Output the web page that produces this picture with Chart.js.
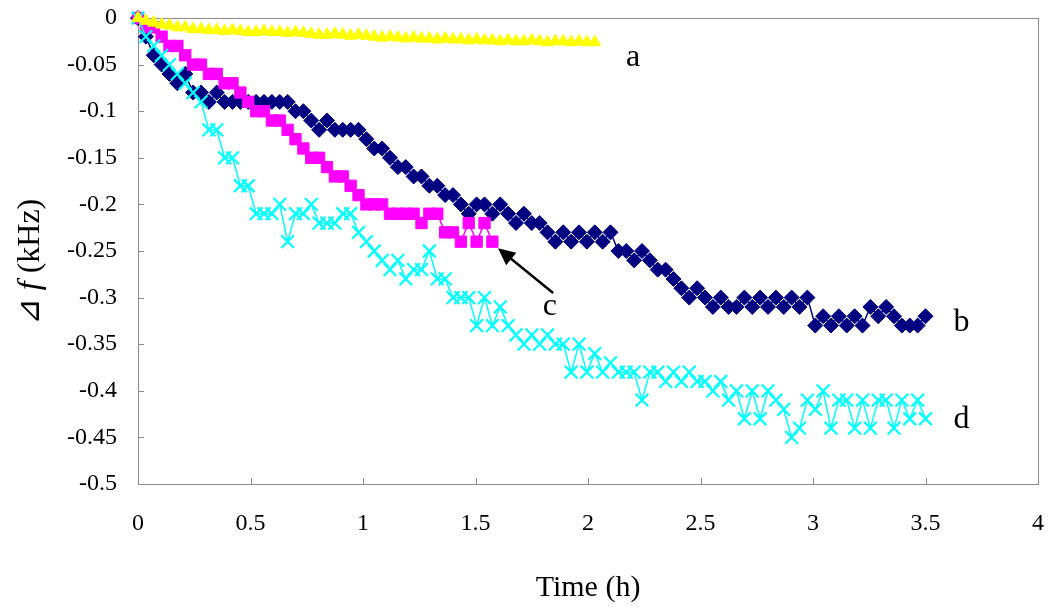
<!DOCTYPE html>
<html>
<head>
<meta charset="utf-8">
<script src="https://cdn.jsdelivr.net/npm/chart.js@4.4.0/dist/chart.umd.min.js"></script>
<style>
  html, body { margin: 0; padding: 0; background: #fff; }
  #wrap { width: 1050px; height: 616px; }
</style>
</head>
<body>
<div id="wrap"><canvas id="chart"></canvas></div>
<script>
// sampling times (h), shared by all four runs
const time = [
  0, 0.035, 0.07, 0.105, 0.14, 0.175, 0.21, 0.245, 0.28, 0.315,
  0.35, 0.385, 0.42, 0.455, 0.49, 0.525, 0.56, 0.595, 0.63, 0.665,
  0.7, 0.735, 0.77, 0.805, 0.84, 0.875, 0.91, 0.945, 0.98, 1.015,
  1.05, 1.085, 1.12, 1.155, 1.19, 1.225, 1.26, 1.295, 1.33, 1.365,
  1.4, 1.435, 1.47, 1.505, 1.54, 1.575, 1.61, 1.645, 1.68, 1.715,
  1.75, 1.785, 1.82, 1.855, 1.89, 1.925, 1.96, 1.995, 2.03, 2.065,
  2.1, 2.135, 2.17, 2.205, 2.24, 2.275, 2.31, 2.345, 2.38, 2.415,
  2.45, 2.485, 2.52, 2.555, 2.59, 2.625, 2.66, 2.695, 2.73, 2.765,
  2.8, 2.835, 2.87, 2.905, 2.94, 2.975, 3.01, 3.045, 3.08, 3.115,
  3.15, 3.185, 3.22, 3.255, 3.29, 3.325, 3.36, 3.395, 3.43, 3.465,
  3.5
];

// delta f (kHz)
const seriesA = [
  0, -0.003, -0.005, -0.007, -0.008, -0.01, -0.01, -0.012, -0.012, -0.013,
  -0.013, -0.014, -0.013, -0.014, -0.015, -0.015, -0.014, -0.015, -0.015, -0.016,
  -0.015, -0.016, -0.017, -0.018, -0.018, -0.017, -0.018, -0.019, -0.018, -0.019,
  -0.02, -0.021, -0.02, -0.021, -0.022, -0.021, -0.022, -0.022, -0.023, -0.022,
  -0.023, -0.023, -0.024, -0.023, -0.024, -0.024, -0.025, -0.024, -0.025, -0.025,
  -0.024, -0.025, -0.026, -0.025, -0.025, -0.026, -0.025, -0.026, -0.026
];
const seriesB = [
  0, -0.02, -0.04, -0.05, -0.06, -0.07, -0.06, -0.08, -0.08, -0.09,
  -0.08, -0.09, -0.09, -0.09, -0.09, -0.09, -0.09, -0.09, -0.09, -0.09,
  -0.1, -0.1, -0.11, -0.12, -0.11, -0.12, -0.12, -0.12, -0.12, -0.13,
  -0.14, -0.14, -0.15, -0.16, -0.16, -0.17, -0.17, -0.18, -0.18, -0.19,
  -0.19, -0.2, -0.21, -0.2, -0.2, -0.21, -0.2, -0.21, -0.22, -0.21,
  -0.22, -0.22, -0.23, -0.24, -0.23, -0.24, -0.23, -0.24, -0.23, -0.24,
  -0.23, -0.25, -0.25, -0.26, -0.25, -0.26, -0.27, -0.27, -0.28, -0.29,
  -0.3, -0.29, -0.3, -0.31, -0.3, -0.31, -0.31, -0.3, -0.31, -0.3,
  -0.31, -0.3, -0.31, -0.3, -0.31, -0.3, -0.33, -0.32, -0.33, -0.32,
  -0.33, -0.32, -0.33, -0.31, -0.32, -0.31, -0.32, -0.33, -0.33, -0.33,
  -0.32
];
const seriesC = [
  0, -0.01, -0.01, -0.02, -0.03, -0.03, -0.04, -0.05, -0.05, -0.06,
  -0.06, -0.07, -0.07, -0.08, -0.09, -0.1, -0.1, -0.11, -0.11, -0.12,
  -0.13, -0.14, -0.15, -0.15, -0.16, -0.17, -0.17, -0.18, -0.19, -0.2,
  -0.2, -0.2, -0.21, -0.21, -0.21, -0.21, -0.22, -0.21, -0.21, -0.23,
  -0.23, -0.24, -0.22, -0.24, -0.22, -0.24
];
const seriesD = [
  0, -0.02, -0.03, -0.04, -0.05, -0.06, -0.07, -0.08, -0.09, -0.12,
  -0.12, -0.15, -0.15, -0.18, -0.18, -0.21, -0.21, -0.21, -0.2, -0.24,
  -0.21, -0.21, -0.2, -0.22, -0.22, -0.22, -0.21, -0.21, -0.23, -0.24,
  -0.25, -0.26, -0.27, -0.26, -0.28, -0.27, -0.27, -0.25, -0.28, -0.28,
  -0.3, -0.3, -0.3, -0.33, -0.3, -0.33, -0.31, -0.33, -0.34, -0.35,
  -0.34, -0.35, -0.34, -0.35, -0.35, -0.38, -0.35, -0.38, -0.36, -0.38,
  -0.37, -0.38, -0.38, -0.38, -0.41, -0.38, -0.38, -0.39, -0.38, -0.39,
  -0.38, -0.39, -0.39, -0.4, -0.39, -0.41, -0.4, -0.43, -0.4, -0.43,
  -0.4, -0.41, -0.42, -0.45, -0.44, -0.41, -0.42, -0.4, -0.44, -0.41,
  -0.41, -0.44, -0.41, -0.44, -0.41, -0.41, -0.44, -0.41, -0.43, -0.41,
  -0.43
];

// curve tags and the arrow pointing at run c (data units)
const tagText = ["a", "b", "c", "d"];
const tagTime = [2.2, 3.66, 1.83, 3.66];
const tagValue = [-0.043, -0.327, -0.31, -0.431];
const arrowTime = [1.845, 1.6];    // tail, head
const arrowValue = [-0.295, -0.247];

const SERIF = "'Liberation Serif', 'Times New Roman', serif";
Chart.defaults.font.family = SERIF;
Chart.defaults.color = "#000";

function pts(vals) {
  return vals.map((v, i) => ({ x: time[i], y: v }));
}

function run(label, vals, color, style, radius, order, pbw) {
  return {
    label: label,
    data: pts(vals),
    borderColor: color,
    backgroundColor: color,
    borderWidth: 1.5,
    pointStyle: style,
    pointRadius: radius,
    pointBorderWidth: pbw,
    pointBorderColor: color,
    pointBackgroundColor: color,
    tension: 0,
    clip: false,
    order: order,
  };
}

const decor = {
  id: "decor",
  beforeDatasetsDraw(chart) {
    const { ctx, chartArea: a, scales } = chart;
    ctx.save();
    ctx.strokeStyle = "#8c8c8c";
    ctx.lineWidth = 1;
    ctx.strokeRect(Math.round(a.left) + 0.5, Math.round(a.top) + 0.5,
      Math.round(a.right - a.left), Math.round(a.bottom - a.top));
    ctx.beginPath();
    scales.y.ticks.forEach((t) => {
      const py = Math.round(scales.y.getPixelForValue(t.value)) + 0.5;
      ctx.moveTo(a.left, py);
      ctx.lineTo(a.left + 6, py);
    });
    scales.x.ticks.forEach((t) => {
      const px = Math.round(scales.x.getPixelForValue(t.value)) + 0.5;
      ctx.moveTo(px, a.bottom);
      ctx.lineTo(px, a.bottom - 6);
    });
    ctx.stroke();
    ctx.restore();
  },
  afterDatasetsDraw(chart) {
    const { ctx, chartArea: a, scales } = chart;
    const X = (t) => scales.x.getPixelForValue(t);
    const Y = (v) => scales.y.getPixelForValue(v);
    ctx.save();
    ctx.fillStyle = "#000";

    // curve tags
    ctx.font = "32px " + SERIF;
    ctx.textAlign = "center";
    ctx.textBaseline = "middle";
    tagText.forEach((s, i) => ctx.fillText(s, X(tagTime[i]), Y(tagValue[i])));

    // arrow
    const x0 = X(arrowTime[0]), y0 = Y(arrowValue[0]);
    const x1 = X(arrowTime[1]), y1 = Y(arrowValue[1]);
    const ang = Math.atan2(y1 - y0, x1 - x0);
    const hl = 17, hw = 8;
    ctx.strokeStyle = "#000";
    ctx.lineWidth = 2.5;
    ctx.beginPath();
    ctx.moveTo(x0, y0);
    ctx.lineTo(x1 - Math.cos(ang) * hl * 0.8, y1 - Math.sin(ang) * hl * 0.8);
    ctx.stroke();
    ctx.beginPath();
    ctx.moveTo(x1, y1);
    ctx.lineTo(x1 - Math.cos(ang) * hl - Math.sin(ang) * hw, y1 - Math.sin(ang) * hl + Math.cos(ang) * hw);
    ctx.lineTo(x1 - Math.cos(ang) * hl + Math.sin(ang) * hw, y1 - Math.sin(ang) * hl - Math.cos(ang) * hw);
    ctx.closePath();
    ctx.fill();

    // x title
    ctx.font = "30px " + SERIF;
    ctx.textAlign = "center";
    ctx.textBaseline = "middle";
    ctx.fillText("Time (h)", (a.left + a.right) / 2, 588);

    // y title, italic f
    const parts = [["⊿ ", "32px " + SERIF], ["f", "italic 32px " + SERIF], [" (kHz)", "32px " + SERIF]];
    let w = 0;
    parts.forEach((p) => { ctx.font = p[1]; w += ctx.measureText(p[0]).width; });
    ctx.translate(31, 262);
    ctx.rotate(-Math.PI / 2);
    ctx.textAlign = "left";
    let cx = -w / 2;
    parts.forEach((p) => {
      ctx.font = p[1];
      ctx.fillText(p[0], cx, 0);
      cx += ctx.measureText(p[0]).width;
    });
    ctx.restore();
  },
};

new Chart(document.getElementById("chart"), {
  type: "line",
  data: {
    datasets: [
      run("a", seriesA, "#FFFF00", "triangle", 7, 0, 1),
      run("b", seriesB, "#000080", "rectRot", 7.5, 3, 1),
      run("c", seriesC, "#FF00FF", "rect", 8, 2, 1),
      run("d", seriesD, "#00FFFF", "crossRot", 9, 1, 2.2),
    ],
  },
  options: {
    responsive: true,
    maintainAspectRatio: false,
    animation: false,
    devicePixelRatio: 1,
    layout: { autoPadding: false, padding: { top: 18, right: 12, left: 0, bottom: 0 } },
    plugins: { legend: { display: false }, tooltip: { enabled: false } },
    scales: {
      x: {
        type: "linear",
        min: 0,
        max: 4,
        afterFit: (s) => { s.height = 132; s.paddingLeft = 0; s.paddingRight = 0; },
        grid: { display: false, drawTicks: false },
        border: { display: false },
        ticks: {
          stepSize: 0.5,
          padding: 25,
          maxRotation: 0,
          autoSkip: false,
          font: { size: 24 },
          callback: (v) => String(Math.round(v * 10) / 10),
        },
      },
      y: {
        type: "linear",
        min: -0.5,
        max: 0,
        afterFit: (s) => { s.width = 138; s.paddingTop = 0; s.paddingBottom = 0; },
        grid: { display: false, drawTicks: false },
        border: { display: false },
        ticks: {
          stepSize: 0.05,
          padding: 21,
          autoSkip: false,
          font: { size: 24 },
          callback: (v) => String(Math.round(v * 100) / 100),
        },
      },
    },
  },
  plugins: [decor],
});
</script>
</body>
</html>
